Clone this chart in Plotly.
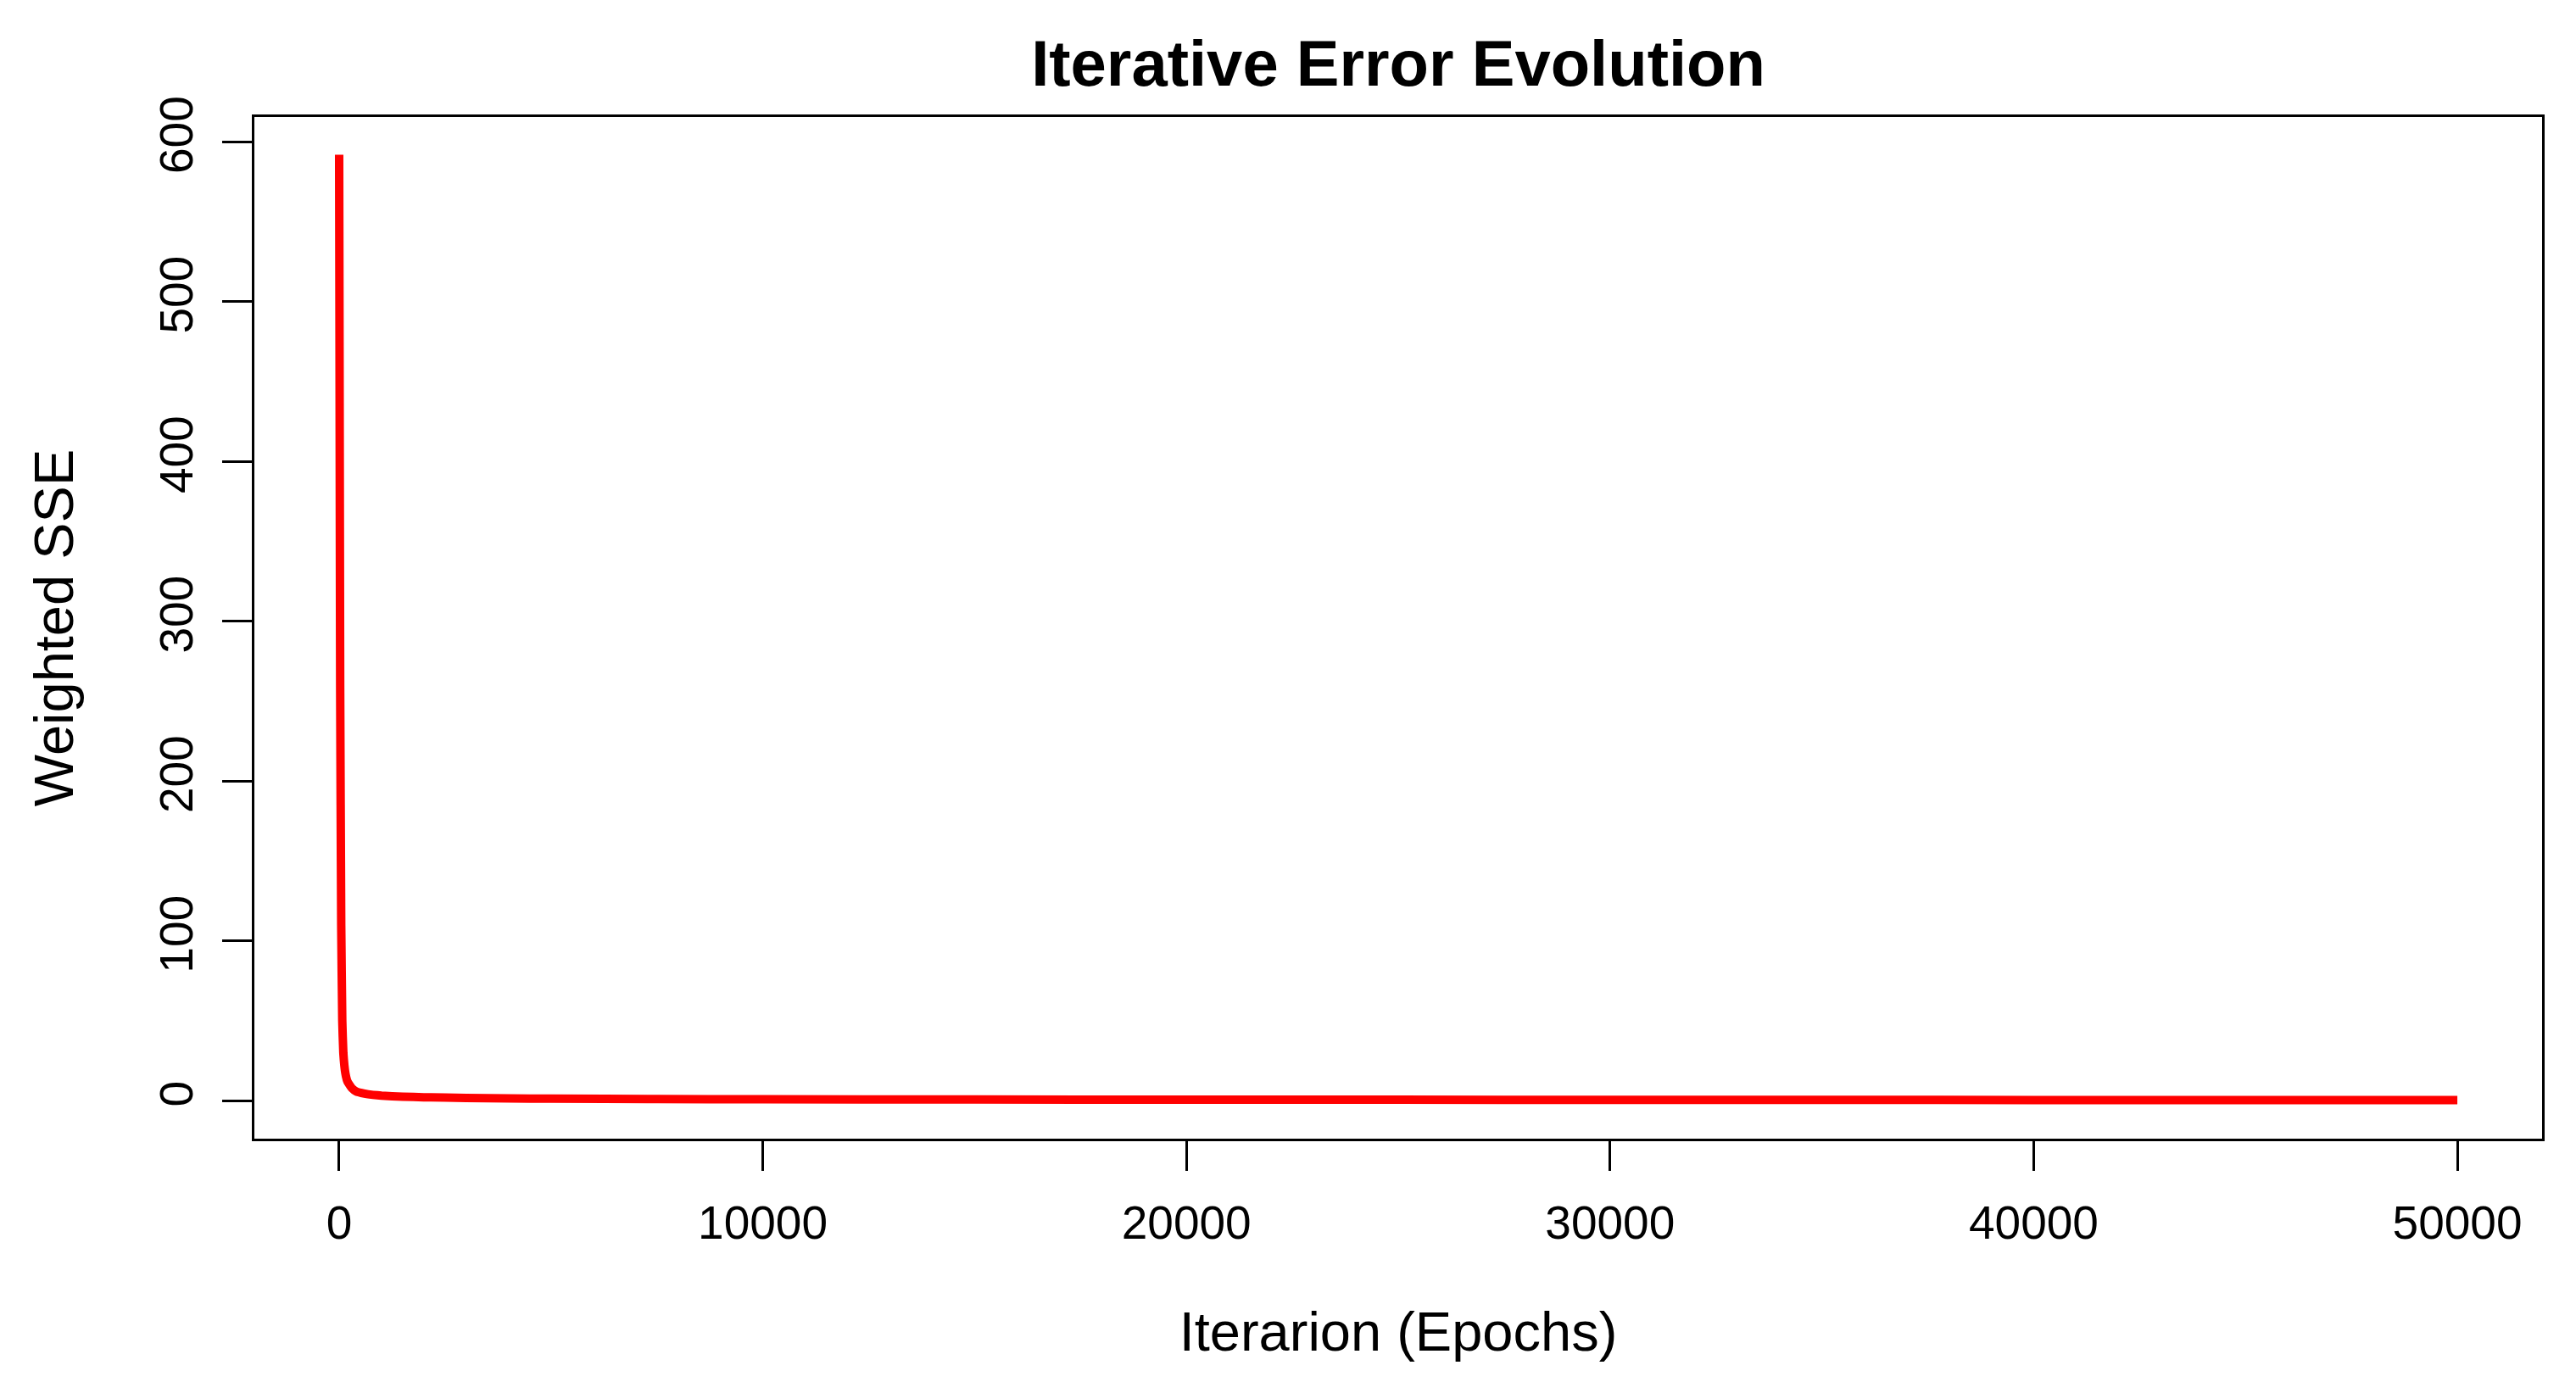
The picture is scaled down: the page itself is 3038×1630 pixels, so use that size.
import plotly.graph_objects as go

# Data
epochs = [1, 10, 25, 50, 75, 100, 150, 200, 300, 400, 600, 800, 1000, 1500,
          2000, 3000, 4000, 5000, 7500, 10000, 15000, 20000, 25000, 30000,
          35000, 40000, 45000, 50000]
sse = [592, 470, 260, 110, 50, 30, 17, 12, 8, 6, 4.6, 3.8, 3.3, 2.7,
       2.3, 1.9, 1.6, 1.4, 1.15, 1.0, 0.9, 0.82, 0.76, 0.7,
       0.65, 0.6, 0.56, 0.52]

x_ticks = [0, 10000, 20000, 30000, 40000, 50000]
y_ticks = [0, 100, 200, 300, 400, 500, 600]

title_text = "Iterative Error Evolution"
x_title = "Iterarion (Epochs)"
y_title = "Weighted SSE"

FONT = "Liberation Sans, Arial, Helvetica, sans-serif"

fig = go.Figure()
fig.add_trace(go.Scatter(
    x=epochs, y=sse, mode="lines",
    line=dict(color="#ff0000", width=10, shape="spline", smoothing=0.3),
    showlegend=False, hoverinfo="x+y",
))

axis_common = dict(
    showgrid=False, zeroline=False, automargin=False,
    showline=True, linecolor="#000000", linewidth=3, mirror=True,
    ticks="outside", ticklen=35, tickwidth=3, tickcolor="#000000",
    tickfont=dict(family=FONT, size=55, color="#000000"),
)

fig.update_layout(
    width=3030, height=1622,
    paper_bgcolor="white", plot_bgcolor="white",
    margin=dict(l=292, r=40, t=130, b=287, autoexpand=False),
    font=dict(family=FONT, color="#000000"),
    title=dict(
        text=f"<b>{title_text}</b>",
        x=0.5416, xref="container", xanchor="center",
        y=1 - 66 / 1622, yref="container", yanchor="middle",
        font=dict(family=FONT, size=76, color="#000000"),
    ),
    xaxis=dict(
        range=[-2000, 52000],
        tickvals=x_ticks, ticktext=[str(v) for v in x_ticks],
        ticklabelstandoff=14,
        title=dict(text=x_title, font=dict(family=FONT, size=65, color="#000000"),
                   standoff=76),
        **axis_common,
    ),
    yaxis=dict(
        range=[-23.6, 615.6],
        tickvals=y_ticks, ticktext=[str(v) for v in y_ticks],
        tickangle=-90,
        ticklabelstandoff=13,
        title=dict(text=y_title, font=dict(family=FONT, size=65, color="#000000"),
                   standoff=70),
        **axis_common,
    ),
)

fig.write_html("out.html")
